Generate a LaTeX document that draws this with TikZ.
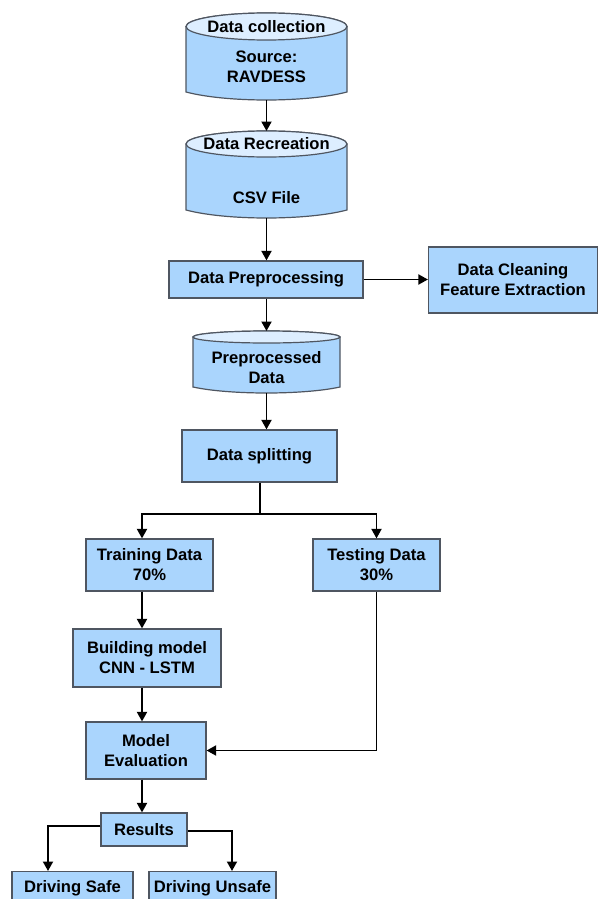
\documentclass[tikz,border=0pt]{standalone}
\usepackage{fontspec}
\setmainfont{Liberation Sans}
\usetikzlibrary{arrows.meta}
\definecolor{boxblue}{HTML}{AAD5FD}
\definecolor{topblue}{HTML}{DDEEFF}
\definecolor{edgegray}{HTML}{4F5661}
\tikzset{
  box/.style={draw=edgegray, line width=1.2pt, fill=boxblue, inner sep=0pt, align=center, font=\bfseries\fontsize{16.6}{20}\selectfont},
  cylbody/.style={draw=edgegray, line width=1.2pt, fill=boxblue},
  cyltop/.style={draw=edgegray, line width=1.2pt, fill=topblue},
  lbl/.style={inner sep=0pt, align=center, font=\bfseries\fontsize{16.6}{20}\selectfont},
  conn/.style={draw=black, line width=1.9pt},
  arr/.style={conn, -{Triangle[length=9.5pt,width=10pt]}}
}
\newcommand\mycyl[7]{%
 \pgfmathsetmacro\mycx{(#2+#3)/2}\pgfmathsetmacro\myrx{(#3-#2)/2}%
 \pgfmathsetmacro\myca{#2+(#3-#2)*0.25}\pgfmathsetmacro\mycb{#2+(#3-#2)*0.75}%
 \pgfmathsetmacro\mycy{#6+(#7-#6)*4/3}%
 \draw[cylbody] (#2,#4) -- (#2,#6) .. controls (\myca,\mycy) and (\mycb,\mycy) .. (#3,#6) -- (#3,#4) arc[start angle=0,end angle=180,x radius=\myrx pt,y radius=#5 pt] -- cycle;
 \draw[cyltop] (\mycx,#4) ellipse[x radius=\myrx pt,y radius=#5 pt];
 \coordinate (#1-n) at (\mycx,#4-#5);
 \coordinate (#1-s) at (\mycx,#7);
}
\begin{document}
\begin{tikzpicture}[x=1pt,y=-1pt]
\useasboundingbox (0,0) rectangle (598,899);
% cylinders
\mycyl{c1}{186}{347}{26.5}{13.5}{92}{100}
\node[lbl] (c1title) at (266.5,27) {Data collection};
\node[lbl] (c1text) at (266.5,67) {Source:\\RAVDESS};
\mycyl{c2}{186}{347}{144}{13}{210}{218}
\node[lbl] (c2title) at (266.5,144) {Data Recreation};
\node[lbl] (c2text) at (266.5,198) {CSV File};
\mycyl{c3}{193}{340}{337}{6}{387}{393}
\node[lbl] (c3text) at (266.5,368) {Preprocessed\\Data};
% boxes
\node[box, minimum width=194pt, minimum height=37pt] (pre) at (266,279.5) {Data Preprocessing};
\node[box, minimum width=169pt, minimum height=66pt] (clean) at (513,280) {Data Cleaning\\Feature Extraction};
\node[box, minimum width=155pt, minimum height=52pt] (split) at (259.5,456) {Data splitting};
\node[box, minimum width=127pt, minimum height=52pt] (train) at (149.5,565) {Training Data\\70\%};
\node[box, minimum width=127pt, minimum height=52pt] (test) at (376.5,565) {Testing Data\\30\%};
\node[box, minimum width=148pt, minimum height=58pt] (build) at (147,658) {Building model\\CNN - LSTM};
\node[box, minimum width=120pt, minimum height=57pt] (eval) at (146,750.5) {Model\\Evaluation};
\node[box, minimum width=86pt, minimum height=33pt] (res) at (144,829.5) {Results};
\node[box, minimum width=121pt, minimum height=34pt, anchor=north] (safe) at (72.5,871) {Driving Safe};
\node[box, minimum width=127pt, minimum height=34pt, anchor=north] (unsafe) at (212.5,871) {Driving Unsafe};
% connectors
\draw[arr] (c1-s) -- (c2-n);
\draw[arr] (c2-s) -- (pre.north -| c2-s);
\draw[arr] (pre.east) -- (clean.west |- pre.east);
\draw[arr] (pre.south -| c3-n) -- (c3-n);
\draw[arr] (c3-s) -- (split.north -| c3-s);
\coordinate (sj) at (260,514);
\draw[conn] (split.south -| sj) -- (sj);
\draw[arr] (sj) -| (train.north -| 142,0);
\draw[arr] (sj) -| (test.north);
\draw[arr] (train.south -| 142,0) -- (build.north -| 142,0);
\draw[arr] (build.south -| 142,0) -- (eval.north -| 142,0);
\draw[arr] (test.south) |- (eval.east);
\draw[arr] (eval.south -| 142,0) -- (res.north -| 142,0);
\draw[arr] (res.west |- 0,826) -| (safe.north -| 48,0);
\draw[arr] (res.east |- 0,831) -| (unsafe.north -| 232,0);
\end{tikzpicture}
\end{document}
